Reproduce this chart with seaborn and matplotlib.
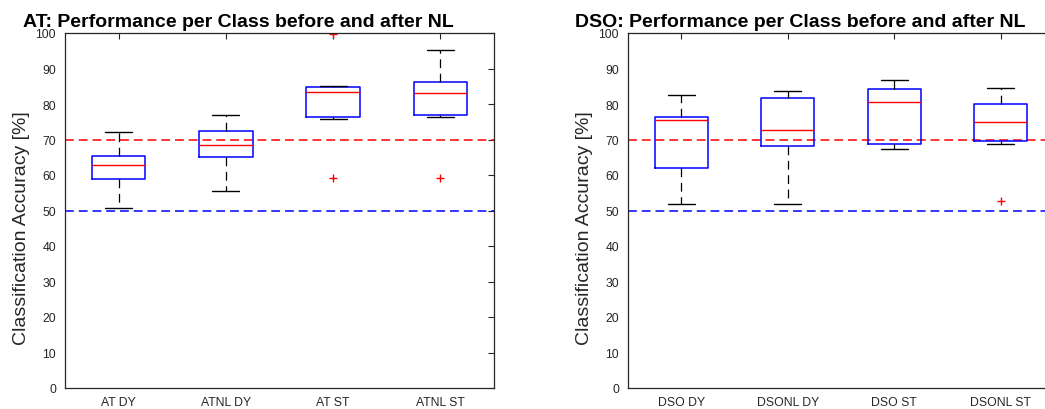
import numpy as np
import pandas as pd
import matplotlib
matplotlib.use("Agg")
import matplotlib.pyplot as plt
import seaborn as sns

# class labels per panel
at_classes = ["AT DY", "ATNL DY", "AT ST", "ATNL ST"]
dso_classes = ["DSO DY", "DSONL DY", "DSO ST", "DSONL ST"]

at_dy = [50.8, 55.0, 58.8, 61.0, 62.8, 64.0, 65.3, 69.0, 72.0]
atnl_dy = [55.4, 60.0, 65.2, 67.0, 68.5, 70.0, 72.5, 75.0, 76.8]
at_st = [59.2, 75.8, 76.3, 80.0, 83.4, 84.0, 84.8, 85.0, 99.8]
atnl_st = [59.2, 76.3, 76.8, 80.0, 83.2, 85.0, 86.1, 90.0, 95.2]

dso_dy = [51.8, 57.0, 62.1, 70.0, 75.5, 76.0, 76.3, 80.0, 82.5]
dsonl_dy = [51.8, 60.0, 68.1, 70.0, 72.6, 78.0, 81.8, 83.0, 83.7]
dso_st = [67.2, 68.0, 68.7, 75.0, 80.5, 82.0, 84.2, 85.0, 86.7]
dsonl_st = [52.7, 68.7, 69.5, 72.0, 74.9, 77.0, 80.0, 82.0, 84.6]

# reference lines (threshold, colour)
ref_levels = [70, 50]
ref_colors = ["red", "blue"]

y_ticks = list(range(0, 101, 10))


def make_frame(classes, series):
    rows = []
    for name, vals in zip(classes, series):
        for v in vals:
            rows.append({"cls": name, "acc": v})
    return pd.DataFrame(rows)


sns.set_style("white")
plt.rcParams["font.family"] = ["Liberation Sans", "DejaVu Sans"]

fig = plt.figure(figsize=(10.45, 4.10), dpi=100)
ax1 = fig.add_axes([65 / 1045, 21 / 410, 429 / 1045, 355 / 410])
ax2 = fig.add_axes([628 / 1045, 21 / 410, 426 / 1045, 355 / 410])

panels = [
    (ax1, at_classes, [at_dy, atnl_dy, at_st, atnl_st],
     "AT: Performance per Class before and after NL", -0.082),
    (ax2, dso_classes, [dso_dy, dsonl_dy, dso_st, dsonl_st],
     "DSO: Performance per Class before and after NL", -0.083),
]

axis_col = "#262626"

for ax, classes, series, title, ylab_x in panels:
    df = make_frame(classes, series)
    for lvl, col in zip(ref_levels, ref_colors):
        ax.axhline(lvl, color=col, ls=(0, (5.8, 3.2)), lw=1.1, zorder=1)
    sns.boxplot(data=df, x="cls", y="acc", order=classes, ax=ax,
                width=0.5, fill=False, whis=1.5,
                boxprops=dict(color="blue", linewidth=1.1),
                medianprops=dict(color="red", linewidth=1.0),
                whiskerprops=dict(color="black", linewidth=0.9,
                                  linestyle=(0, (7, 4.5))),
                capprops=dict(color="black", linewidth=1.0),
                flierprops=dict(marker="+", markeredgecolor="red",
                                markerfacecolor="red", markersize=6,
                                markeredgewidth=1.0))
    ax.set_ylim(0, 100)
    ax.set_xlim(-0.5, 3.5)
    ax.set_yticks(y_ticks)
    ax.set_xlabel("")
    ax.set_ylabel("Classification Accuracy [%]", fontsize=14, color=axis_col)
    ax.yaxis.set_label_coords(ylab_x, 0.4535)
    ax.set_title(title, fontsize=14, fontweight="bold", color="black",
                 family=["Liberation Sans", "DejaVu Sans"], x=0.405, pad=5)
    ax.tick_params(axis="both", direction="in", length=4, width=0.8,
                   colors=axis_col, labelsize=8.8, top=True, right=True,
                   labelcolor=axis_col)
    ax.tick_params(axis="y", pad=6.5)
    ax.tick_params(axis="x", pad=5.5)
    for s in ax.spines.values():
        s.set_color(axis_col)
        s.set_linewidth(0.9)

fig.savefig("out.png", dpi=100)
